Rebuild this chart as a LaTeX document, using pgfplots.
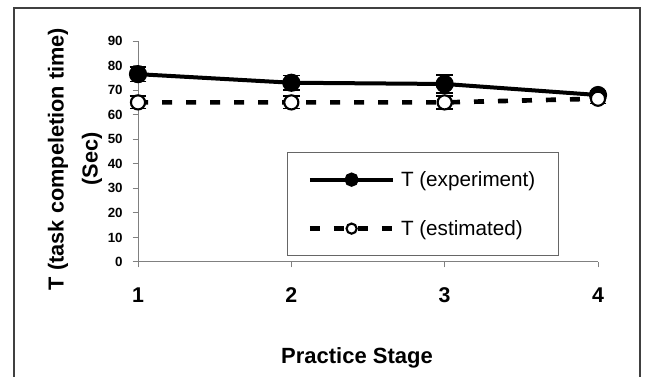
\documentclass[border=0pt]{standalone}
\usepackage{fontspec}
\setmainfont{Liberation Sans}
\usepackage{pgfplots}
\pgfplotsset{compat=1.18}
\begin{document}
\begin{tikzpicture}
\useasboundingbox (0,0) rectangle (485.25pt,282.75pt);
\draw[line width=1.5pt, draw=black!75] (10.5pt,-5pt) -- (10.5pt,277.1pt) -- (480pt,277.1pt) -- (480pt,-5pt);
\begin{axis}[
  at={(103.5pt,86.25pt)}, anchor=south west,
  scale only axis, width=345pt, height=165.75pt,
  xmin=1, xmax=4, ymin=0, ymax=90,
  axis lines*=left,
  axis line style={draw=black!50, line width=0.75pt},
  xtick={1,2,3,4}, ytick={0,10,...,90},
  tick style={draw=black!50, line width=0.75pt},
  tick align=outside, major tick length=4pt,
  /pgf/number format/assume math mode=true,
  xticklabel style={font=\fontsize{16}{18}\selectfont\bfseries, yshift=-12pt},
  yticklabel style={font=\fontsize{10}{11}\selectfont\bfseries, xshift=-4pt},
  clip=false,
  legend style={at={(axis cs:1.972,44.8)}, anchor=north west,
    draw=black!60, line width=0.75pt,
    font=\fontsize{15.5}{18}\selectfont,
    inner xsep=15pt, inner ysep=12pt, row sep=20pt,
    /tikz/column sep=2pt},
  legend cell align=left,
  legend image code/.code={\draw[mark repeat=2,mark phase=2,mark size=3.8pt] plot coordinates {(0cm,0cm) (1.1cm,0cm) (2.2cm,0cm)};},
]
\addplot[black, line width=3pt, mark=*, mark size=5.3pt, mark options={solid, fill=black},
  error bars/.cd, y dir=both, y explicit,
  error bar style={solid, line width=1.2pt},
  error mark options={rotate=90, mark size=6.3pt, line width=1.3pt}]
  coordinates {(1,76.5) +- (0,3) (2,73) +- (0,3) (3,72.5) +- (0,3.6) (4,68) +- (0,1.5)};
\addlegendentry{T (experiment)}
\addplot[black, line width=3.5pt, dash pattern=on 7.5pt off 10.5pt, mark=*, mark size=5.3pt,
  mark options={solid, fill=white, draw=black, line width=1.6pt},
  error bars/.cd, y dir=both, y explicit,
  error bar style={solid, line width=1.2pt},
  error mark options={rotate=90, mark size=6.3pt, line width=1.3pt}]
  coordinates {(1,65) +- (0,2.5) (2,65) +- (0,2.5) (3,65) +- (0,2.7) (4,66.5) +- (0,2)};
\addlegendentry{T (estimated)}
\end{axis}
\node[rotate=90, align=center, font=\fontsize{16.3}{25.5}\selectfont\bfseries] at (56.25pt,163.5pt) {T (task compeletion time)\\(Sec)};
\node[font=\fontsize{16.5}{20}\selectfont\bfseries] at (267.75pt,14pt) {Practice Stage};
\end{tikzpicture}
\end{document}
